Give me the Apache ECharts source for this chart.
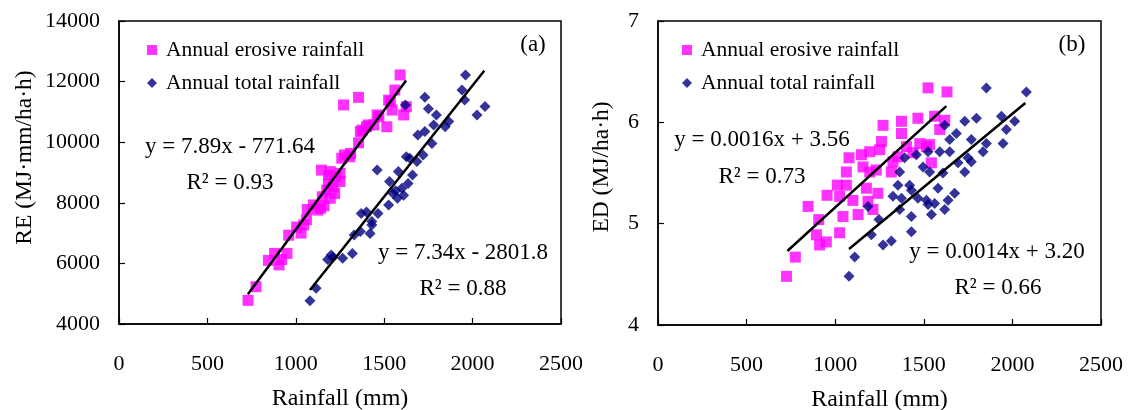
<!DOCTYPE html>
<html>
<head>
<meta charset="utf-8">
<script src="https://cdn.jsdelivr.net/npm/echarts@6/dist/echarts.min.js"></script>
<style>
html,body{margin:0;padding:0;background:#fff;}
#chart{width:1131px;height:410px;}
</style>
</head>
<body>
<div id="chart"></div>
<script>
// ---------- data ----------
const xTicks = [0, 500, 1000, 1500, 2000, 2500];
const reTicks = [4000, 6000, 8000, 10000, 12000, 14000];
const edTicks = [4, 5, 6, 7];
const seriesNames = ['Annual erosive rainfall', 'Annual total rainfall'];

// Panel (a): RE vs rainfall
const reErosive = [[730,4780],[775,5230],[845,6100],[880,6330],[905,5950],[920,6130],[950,6330],[960,6930],[1005,7200],[1030,7000],[1045,7270],[1060,7440],[1065,7780],[1100,7930],[1125,7760],[1140,7820],[1150,8200],[1160,7900],[1175,8420],[1185,8640],[1195,8150],[1210,8530],[1220,8310],[1145,9080],[1185,8920],[1195,9030],[1225,8860],[1250,8700],[1250,8970],[1260,9470],[1275,9580],[1305,9520],[1310,9630],[1270,11230],[1355,11480],[1355,9980],[1365,10350],[1375,10400],[1400,10510],[1410,10570],[1440,10570],[1460,10900],[1470,10840],[1515,10510],[1525,11390],[1535,11340],[1545,11060],[1560,11720],[1590,12220],[1610,10900],[1625,11170]];
const reTotal = [[1080,4770],[1115,5180],[1180,6130],[1200,6280],[1210,6200],[1265,6170],[1320,6330],[1330,6940],[1365,7050],[1420,6990],[1370,7650],[1400,7700],[1430,7380],[1430,7270],[1465,7650],[1460,9080],[1525,7930],[1530,8700],[1550,8310],[1565,8400],[1575,8150],[1580,9030],[1600,8480],[1610,8250],[1625,9520],[1635,8640],[1645,9470],[1660,8920],[1685,9360],[1690,10240],[1720,9580],[1730,10350],[1730,11480],[1750,11100],[1620,11230],[1770,9960],[1780,10570],[1795,10900],[1845,10510],[1865,10680],[1940,11720],[1955,11390],[1960,12220],[2025,10900],[2070,11180]];
const reErosiveFit = [[729,4980],[1624,12040]];
const reTotalFit = [[1080,5125],[2066,12360]];

// Panel (b): ED vs rainfall
const edErosive = [[725,4.48],[775,4.67],[847,5.17],[894,4.89],[907,5.04],[912,4.79],[950,4.82],[954,5.28],[1012,5.38],[1025,4.91],[1025,5.27],[1044,5.07],[1063,5.38],[1063,5.51],[1078,5.65],[1100,5.23],[1129,5.09],[1148,5.68],[1157,5.56],[1176,5.35],[1185,5.22],[1195,5.71],[1195,5.51],[1213,5.14],[1232,5.53],[1241,5.30],[1251,5.73],[1261,5.81],[1270,5.97],[1317,5.51],[1326,5.61],[1354,5.66],[1374,6.01],[1374,5.89],[1402,5.76],[1439,5.70],[1467,6.04],[1477,5.79],[1515,5.76],[1524,6.34],[1533,5.78],[1543,5.60],[1561,6.06],[1590,5.93],[1618,6.02],[1631,6.30]];
const edTotal = [[1078,4.48],[1110,4.67],[1185,5.17],[1204,4.89],[1247,5.04],[1270,4.79],[1317,4.83],[1326,5.27],[1354,5.38],[1364,5.51],[1374,5.25],[1364,5.14],[1392,5.65],[1420,5.38],[1430,5.33],[1430,5.07],[1430,4.92],[1458,5.68],[1467,5.25],[1496,5.56],[1515,5.23],[1524,5.71],[1533,5.51],[1524,5.19],[1543,5.09],[1561,5.20],[1580,5.35],[1590,5.71],[1608,5.50],[1618,5.97],[1618,5.14],[1637,5.23],[1646,5.71],[1646,5.83],[1674,5.30],[1684,5.89],[1693,5.60],[1731,6.01],[1731,5.51],[1749,5.65],[1768,5.83],[1768,5.61],[1797,6.04],[1834,5.71],[1853,5.79],[1853,6.34],[1938,6.06],[1947,5.79],[1966,5.93],[2013,6.01],[2079,6.30]];
const edErosiveFit = [[730,4.73],[1627,6.16]];
const edTotalFit = [[1078,4.75],[2073,6.19]];

const equations = {
  aErosive: 'y = 7.89x - 771.64', aErosiveR2: 'R² = 0.93',
  aTotal: 'y = 7.34x - 2801.8', aTotalR2: 'R² = 0.88',
  bErosive: 'y = 0.0016x + 3.56', bErosiveR2: 'R² = 0.73',
  bTotal: 'y = 0.0014x + 3.20', bTotalR2: 'R² = 0.66'
};
const panelTags = ['(a)', '(b)'];

// ---------- chart ----------
const FONT = "'Liberation Serif','Times New Roman',serif";
const PINK = '#FF00FF';
const NAVY = '#000080';
const chart = echarts.init(document.getElementById('chart'), null, {renderer: 'canvas'});
const plain = v => String(v);

function xAxis(gi) {
  return {
    type: 'value', gridIndex: gi, min: xTicks[0], max: xTicks[xTicks.length-1], interval: 500,
    name: 'Rainfall (mm)', nameLocation: 'middle', nameGap: 63,
    nameTextStyle: {fontFamily: FONT, fontSize: 24, color: '#000'},
    axisLine: {show: true, onZero: false, lineStyle: {color: '#000', width: 1.5}},
    axisTick: {show: true, inside: true, length: 6, lineStyle: {color: '#000', width: 1.2}},
    axisLabel: {fontFamily: FONT, fontSize: 22, color: '#000', margin: 29, formatter: plain},
    splitLine: {show: false}
  };
}
function yAxis(gi, ticks, interval, name, gap, pad) {
  return {
    type: 'value', gridIndex: gi, min: ticks[0], max: ticks[ticks.length-1], interval: interval,
    name: name, nameLocation: 'middle', nameGap: gap,
    nameTextStyle: {fontFamily: FONT, fontSize: 23.5, color: '#000', padding: [0,0,0,pad]},
    axisLine: {show: true, onZero: false, lineStyle: {color: '#000', width: 1.5}},
    axisTick: {show: true, inside: true, length: 6, lineStyle: {color: '#000', width: 1.2}},
    axisLabel: {fontFamily: FONT, fontSize: 22, color: '#000', margin: 19, formatter: plain},
    splitLine: {show: false}
  };
}
function scatter(name, data, gi, symbol, color, size) {
  return {type: 'scatter', name: name, xAxisIndex: gi, yAxisIndex: gi, data: data,
    symbol: symbol, symbolSize: size, itemStyle: {color: color}, z: 3, silent: true};
}
function fit(data, gi) {
  return {type: 'line', xAxisIndex: gi, yAxisIndex: gi, data: data, symbol: 'none',
    lineStyle: {color: '#000', width: 2.5}, z: 4, silent: true};
}
function legend(left) {
  return {
    orient: 'vertical', left: left, top: 34, itemWidth: 10, itemHeight: 10, itemGap: 11,
    selectedMode: false,
    textStyle: {fontFamily: FONT, fontSize: 21.5, color: '#000', lineHeight: 22, padding: [0,0,0,4]},
    data: [{name: seriesNames[0], icon: 'rect'}, {name: seriesNames[1], icon: 'diamond'}]
  };
}
function txt(x, y, s) {
  return {type: 'text', x: x, y: y, style: {text: s, fontFamily: FONT, fontSize: 23, fill: '#000',
    align: 'center', verticalAlign: 'middle'}};
}

const option = {
  backgroundColor: '#fff',
  animation: false,
  grid: [
    {left: 119, top: 21, width: 442, height: 303, containLabel: false, outerBoundsMode: 'none', show: true, borderColor: '#000', borderWidth: 1.5, backgroundColor: 'transparent'},
    {left: 658, top: 21, width: 443, height: 304, containLabel: false, outerBoundsMode: 'none', show: true, borderColor: '#000', borderWidth: 1.5, backgroundColor: 'transparent'}
  ],
  xAxis: [xAxis(0), xAxis(1)],
  yAxis: [
    yAxis(0, reTicks, 2000, 'RE (MJ·mm/ha·h)', 82, 30),
    yAxis(1, edTicks, 1, 'ED (MJ/ha·h)', 44, 12)
  ],
  legend: [legend(142), legend(677)],
  series: [
    scatter(seriesNames[0], reErosive, 0, 'rect', PINK, 11),
    scatter(seriesNames[1], reTotal, 0, 'diamond', NAVY, 11),
    fit(reErosiveFit, 0), fit(reTotalFit, 0),
    scatter(seriesNames[0], edErosive, 1, 'rect', PINK, 11),
    scatter(seriesNames[1], edTotal, 1, 'diamond', NAVY, 11),
    fit(edErosiveFit, 1), fit(edTotalFit, 1)
  ],
  graphic: [
    txt(533, 45, panelTags[0]), txt(1072, 45, panelTags[1]),
    txt(230, 147, equations.aErosive), txt(230, 183, equations.aErosiveR2),
    txt(463, 253, equations.aTotal), txt(463, 289, equations.aTotalR2),
    txt(762, 140, equations.bErosive), txt(762, 177, equations.bErosiveR2),
    txt(997, 252, equations.bTotal), txt(998, 288, equations.bTotalR2)
  ]
};
chart.setOption(option);
</script>
</body>
</html>
